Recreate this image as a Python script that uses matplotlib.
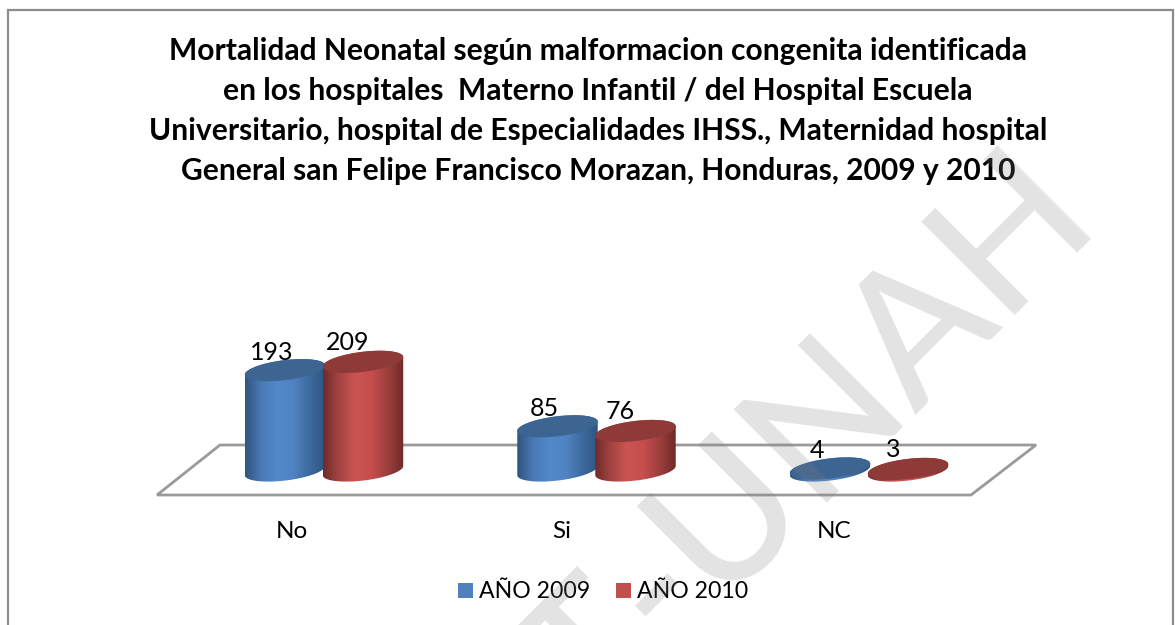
import numpy as np
import matplotlib
matplotlib.use('Agg')
import matplotlib.pyplot as plt
from matplotlib.patches import Patch, PathPatch, Polygon, Rectangle
from matplotlib.path import Path
from matplotlib.colors import LinearSegmentedColormap
from matplotlib.transforms import IdentityTransform

categorias = ['No', 'Si', 'NC']
anio_2009 = [193, 85, 4]
anio_2010 = [209, 76, 3]
series = ['AÑO 2009', 'AÑO 2010']
titulo = ('Mortalidad Neonatal según malformacion congenita identificada\n'
          'en los hospitales  Materno Infantil / del Hospital Escuela\n'
          'Universitario, hospital de Especialidades IHSS., Maternidad hospital\n'
          'General san Felipe Francisco Morazan, Honduras, 2009 y 2010')

plt.rcParams['font.family'] = ['Lato', 'DejaVu Sans']
W, H = 1175, 625
fig = plt.figure(figsize=(W / 100, H / 100), dpi=100)

# ejes: y=495 px abajo hasta y=0 px arriba
px_cat = 272.5
px_val = 0.52
base_y = 470.5
ax = fig.add_axes([0, (H - 495) / H, 1, 495 / H])
ax.set_xlim(-324 / px_cat, (W - 324) / px_cat)
ax.set_ylim((base_y - 495) / px_val, base_y / px_val)
ax.patch.set_alpha(0)
for s in ax.spines.values():
    s.set_visible(False)
ax.set_yticks([])
ax.set_xticks(np.arange(3) - np.array([32, 35, 35]) / px_cat)
ax.set_xticklabels(categorias, fontsize=17.5)
ax.tick_params(axis='x', length=0, pad=19)


def px(x, y):
    # coordenadas de imagen a pixeles de matplotlib (y hacia arriba)
    return (x, H - y)


# borde del grafico y plano del piso
fig.add_artist(Rectangle(px(8, 660), W - 10, 650, fill=False, ec='#8c8c8c', lw=1.6,
                         transform=IdentityTransform()))
piso = [px(157, 495), px(971, 495), px(1036, 445), px(220, 445)]
ax.add_patch(Polygon(piso, closed=True, fill=False, ec='#9a9a9a', lw=2,
                     transform=IdentityTransform(), clip_on=False, zorder=1))

azul = LinearSegmentedColormap.from_list('azul', ['#2f5580', '#4a7ab5', '#5388cb', '#4f83c2', '#3d6a9e', '#2f5580'])
rojo = LinearSegmentedColormap.from_list('rojo', ['#6f2a28', '#a54543', '#cb5351', '#c54f4d', '#9c3f3d', '#6f2a28'])
grad = np.linspace(0, 1, 128).reshape(1, -1)

a, b, ang = 40.5, 10.0, np.radians(7)
t = np.linspace(0, 2 * np.pi, 181)
ex = a * np.cos(t) * np.cos(ang) - b * np.sin(t) * np.sin(ang)
ey = a * np.cos(t) * np.sin(ang) + b * np.sin(t) * np.cos(ang)


def cilindro(i, v, dx, cmap, tapa, z):
    cx, cy = ax.transData.transform((i + dx / px_cat, v))
    _, y0 = ax.transData.transform((0, 0))
    # lado: mitad inferior de la base + mitad superior de la tapa
    il, ir = np.argmin(ex), np.argmax(ex)
    idx = np.arange(len(t) - 1)
    arriba = np.roll(idx, -ir)[:(il - ir) % (len(t) - 1) + 1]
    abajo = np.roll(idx, -il)[:(ir - il) % (len(t) - 1) + 1]
    pts = np.vstack([np.c_[cx + ex[abajo], y0 + ey[abajo]],
                     np.c_[cx + ex[arriba], cy + ey[arriba]]])
    lado = PathPatch(Path(np.vstack([pts, pts[:1]]), closed=True), fc='none', ec='none',
                     transform=IdentityTransform(), zorder=z)
    ax.add_patch(lado)
    x0 = i + (dx - a) / px_cat
    x1 = i + (dx + a) / px_cat
    im = ax.imshow(grad, cmap=cmap, aspect='auto', zorder=z, interpolation='bilinear',
                   extent=[x0, x1, -30, v + 30])
    im.set_clip_path(lado)
    top = Polygon(np.c_[cx + ex, cy + ey], closed=True, fc=tapa, ec='none',
                  transform=IdentityTransform(), zorder=z + 0.1)
    ax.add_patch(top)


lims = ax.get_xlim(), ax.get_ylim()
for i, (v1, v2) in enumerate(zip(anio_2009, anio_2010)):
    cilindro(i, v1, -39, azul, '#3d6592', 2)
    cilindro(i, v2, 39, rojo, '#8e3a38', 3)
    ax.annotate(str(v1), (i - 39 / px_cat, v1), xytext=(-13, 18), textcoords='offset pixels',
                ha='center', va='center', fontsize=18, zorder=5, annotation_clip=False)
    ax.annotate(str(v2), (i + 39 / px_cat, v2), xytext=(-15, 19), textcoords='offset pixels',
                ha='center', va='center', fontsize=18, zorder=5, annotation_clip=False)
ax.set_xlim(lims[0])
ax.set_ylim(lims[1])

fig.text(598 / W, 1 - 111 / H, titulo, ha='center', va='center', fontsize=21.6, fontweight='bold',
         linespacing=1.52)

handles = [Patch(fc='#4f81bd', label=series[0]), Patch(fc='#c0504d', label=series[1])]
fig.legend(handles=handles, loc='center', bbox_to_anchor=(603 / W, 1 - 592 / H), ncols=2, frameon=False,
           fontsize=16.6, handlelength=0.65, handleheight=0.65, handletextpad=0.26, columnspacing=1.15)

# marca de agua
fig.text(1103 / W, 1 - 225 / H, 'T-UNAH', rotation=45, ha='right', va='baseline', rotation_mode='anchor',
         fontsize=132, fontweight=500, color='#808080', alpha=0.22, zorder=10)

fig.savefig('out.png', dpi=100)
